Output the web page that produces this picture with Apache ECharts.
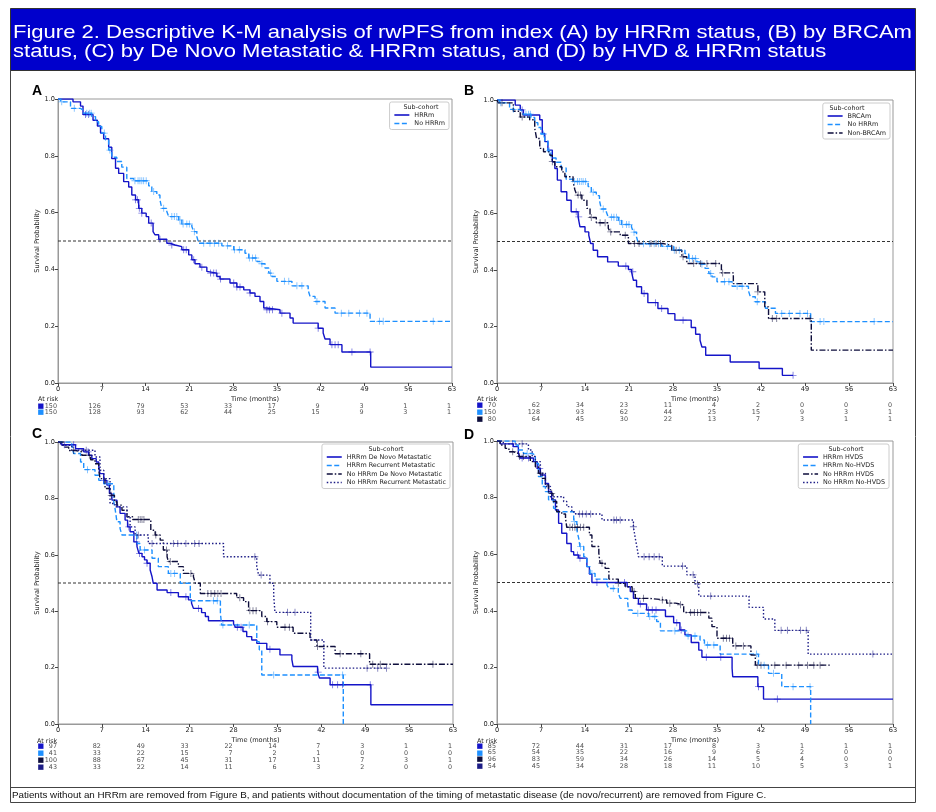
<!DOCTYPE html>
<html><head><meta charset="utf-8">
<script src="https://cdn.jsdelivr.net/npm/echarts@6/dist/echarts.min.js"></script>
<style>html,body{margin:0;padding:0;background:#fff}#c{width:936px;height:812px}</style>
</head><body><div id="c"></div>
<script>
// ---------- DATA ----------
const riskTimes = [0,7,14,21,28,35,42,49,56,63];

// Panel A
const aHRRm = [[0,1],[2.4,0.99],[3.6,0.975],[4.0,0.945],[5.6,0.925],[6.3,0.905],[6.8,0.88],[7.3,0.86],[8.1,0.83],[8.6,0.79],[9.2,0.756],[9.7,0.738],[10.5,0.709],[11.3,0.69],[11.8,0.662],[12.4,0.645],[12.9,0.615],[13.4,0.598],[14.1,0.586],[14.5,0.563],[15.2,0.533],[15.5,0.522],[16.1,0.506],[17.4,0.492],[17.9,0.486],[18.7,0.48],[19.8,0.469],[20.9,0.451],[21.4,0.434],[21.9,0.42],[22.7,0.408],[23.8,0.393],[24.1,0.387],[25.4,0.375],[25.9,0.366],[27.5,0.352],[28.6,0.338],[29.7,0.328],[30.7,0.317],[31.5,0.305],[32.3,0.287],[32.9,0.264],[33.3,0.258],[35.5,0.246],[37.1,0.229],[37.6,0.211],[41.6,0.193],[42.4,0.176],[42.7,0.155],[43.5,0.135],[45.4,0.109],[50.0,0.056],[63,0.056]];
const aHRRmCens = [4.4,4.9,12.4,12.7,13.0,13.4,14.9,16.3,18.2,20.1,20.5,21.7,23.0,24.4,24.9,25.3,26.0,28.1,28.6,29.1,30.7,33.4,33.8,34.3,35.8,41.6,43.8,44.3,44.8,47.0,49.9];
const aNoHRRm = [[0,1],[0.4,0.99],[2.0,0.967],[3.6,0.96],[4.1,0.95],[5.4,0.938],[6.0,0.92],[6.5,0.903],[7.0,0.88],[7.6,0.856],[8.1,0.82],[8.6,0.795],[9.4,0.78],[10.2,0.76],[11.0,0.72],[12.1,0.712],[14.5,0.694],[15.0,0.674],[15.8,0.662],[16.3,0.645],[16.6,0.615],[17.4,0.604],[17.7,0.586],[19.3,0.574],[19.8,0.56],[21.4,0.551],[21.7,0.533],[22.2,0.516],[22.5,0.492],[26.2,0.483],[28.1,0.469],[29.9,0.457],[30.5,0.44],[31.8,0.428],[32.3,0.42],[33.1,0.405],[33.7,0.387],[34.2,0.375],[35.0,0.358],[37.4,0.342],[40.0,0.326],[40.3,0.305],[41.1,0.287],[42.7,0.264],[44.3,0.246],[49.9,0.217],[63,0.217]];
const aNoHRRmCens = [0.6,2.6,4.6,5.0,5.3,7.4,8.3,12.3,12.8,13.1,13.4,13.7,14.1,15.3,16.9,18.2,18.6,19.0,19.5,20.0,20.6,21.0,21.8,23.3,24.3,25.0,25.7,27.1,28.2,29.0,30.6,31.1,31.6,32.6,34.0,36.2,36.9,38.2,39.0,41.4,45.3,46.5,48.2,49.4,51.4,52.0,60.0];
const riskA_HRRm = [150,126,79,53,33,17,9,3,1,1];
const riskA_NoHRRm = [150,128,93,62,44,25,15,9,3,1];

// Panel B
const bBRCAm = [[0,1],[2.9,0.982],[3.7,0.965],[4.2,0.947],[6.8,0.93],[7.2,0.882],[7.6,0.853],[8.1,0.823],[8.8,0.782],[9.2,0.758],[9.6,0.717],[10.2,0.676],[11.1,0.646],[11.8,0.605],[12.9,0.587],[13.2,0.552],[14.0,0.534],[14.6,0.522],[14.9,0.493],[15.3,0.469],[16.0,0.446],[17.6,0.428],[19.3,0.413],[20.9,0.401],[21.4,0.393],[21.7,0.363],[22.2,0.34],[23.0,0.316],[24.0,0.284],[25.6,0.263],[27.2,0.245],[28.3,0.222],[30.9,0.196],[31.6,0.172],[32.3,0.151],[32.6,0.127],[33.2,0.098],[37.1,0.074],[41.7,0.051],[45.4,0.027],[47.1,0.027]];
const bBRCAmCens = [4.0,12.6,13.0,20.5,21.6,23.4,25.2,26.2,29.6,47.1];
const bNonBRCAm = [[0,1],[0.2,0.99],[2.6,0.96],[3.7,0.94],[5.2,0.93],[6.0,0.9],[6.3,0.864],[6.8,0.829],[7.4,0.817],[8.4,0.805],[8.8,0.782],[9.2,0.764],[10.3,0.746],[10.8,0.729],[12.1,0.711],[12.4,0.682],[12.7,0.664],[13.5,0.646],[14.3,0.617],[14.8,0.585],[15.8,0.566],[17.7,0.547],[18.0,0.534],[19.6,0.522],[20.9,0.493],[26.4,0.486],[27.8,0.469],[29.4,0.446],[30.2,0.422],[35.7,0.389],[37.6,0.351],[41.5,0.322],[42.6,0.269],[43.2,0.228],[50.0,0.116],[63,0.116]];
const bNonBRCAmCens = [0.8,4.0,8.8,12.9,13.3,15.0,16.4,17.2,18.1,20.4,21.9,22.6,24.5,25.3,26.0,28.5,29.6,31.3,32.4,33.4,34.8,35.9,41.5,43.8,44.5,49.8];
const riskB_BRCAm = [70,62,34,23,11,4,2,0,0,0];
const riskB_NoHRRm = [150,128,93,62,44,25,15,9,3,1];
const riskB_NonBRCAm = [80,64,45,30,22,13,7,3,1,1];

// Panel C
const cHRRmDeNovo = [[0,1],[0.6,0.99],[2.8,0.976],[4.1,0.965],[4.9,0.953],[5.4,0.941],[6.1,0.929],[6.5,0.912],[6.7,0.888],[7.3,0.864],[7.8,0.847],[8.2,0.817],[8.6,0.794],[9.4,0.77],[9.9,0.747],[10.7,0.723],[11.1,0.699],[11.5,0.682],[12.1,0.646],[12.6,0.629],[12.9,0.605],[13.4,0.593],[13.8,0.582],[14.2,0.57],[14.7,0.546],[15.0,0.522],[15.2,0.499],[15.8,0.475],[17.4,0.466],[19.2,0.451],[20.8,0.44],[21.3,0.428],[21.6,0.41],[22.9,0.395],[23.5,0.381],[24.0,0.366],[28.0,0.355],[28.3,0.343],[29.5,0.328],[30.1,0.31],[30.9,0.298],[31.7,0.286],[33.3,0.265],[35.4,0.245],[37.3,0.228],[37.5,0.204],[41.4,0.184],[41.7,0.163],[43.4,0.139],[49.9,0.068],[63,0.068]];
const cHRRmDeNovoCens = [1.0,2.5,4.8,7.3,11.3,12.5,13.0,14.2,18.0,20.4,22.4,28.6,29.2,33.8,41.5,43.8,44.6,45.4,49.8];
const cHRRmRecur = [[0,1],[2.2,0.988],[2.5,0.959],[3.6,0.929],[4.1,0.902],[5.9,0.882],[6.5,0.864],[7.3,0.852],[8.9,0.788],[9.1,0.764],[9.4,0.717],[9.9,0.693],[10.2,0.67],[12.6,0.64],[13.1,0.617],[15.0,0.588],[16.0,0.558],[17.6,0.534],[19.5,0.499],[21.1,0.437],[25.9,0.393],[26.1,0.351],[31.7,0.292],[32.1,0.263],[32.5,0.174],[45.5,0]];
const cHRRmRecurCens = [4.7,8.0,12.5,13.8,18.0,18.6,24.8,25.4,26.3,30.5,34.4,45.4];
const cNoDeNovo = [[0,1],[0.9,0.982],[1.7,0.97],[2.8,0.965],[3.8,0.953],[5.2,0.937],[5.9,0.923],[6.5,0.9],[6.7,0.87],[7.5,0.835],[8.3,0.811],[9.0,0.788],[9.4,0.776],[10.2,0.758],[11.0,0.735],[11.9,0.725],[14.8,0.687],[15.5,0.67],[16.3,0.652],[16.8,0.617],[17.4,0.593],[17.6,0.576],[19.2,0.558],[20.0,0.534],[21.6,0.522],[21.9,0.499],[22.7,0.463],[28.5,0.448],[29.6,0.434],[30.4,0.402],[32.5,0.381],[33.3,0.363],[34.9,0.343],[37.5,0.322],[40.2,0.298],[41.3,0.275],[44.2,0.249],[49.7,0.212],[63,0.212]];
const cNoDeNovoCens = [2.5,5.0,8.5,12.8,13.1,13.4,13.7,15.6,17.3,17.9,21.2,23.9,24.4,25.0,25.5,26.0,29.0,30.6,31.1,31.6,33.4,36.2,36.9,41.4,45.0,48.3,50.2,51.4,59.8];
const cNoRecur = [[0,1],[0.4,0.988],[2.2,0.971],[5.9,0.947],[6.7,0.9],[7.3,0.87],[8.3,0.782],[9.1,0.77],[11.0,0.735],[11.5,0.699],[12.3,0.67],[14.4,0.64],[26.4,0.593],[31.7,0.558],[32.0,0.528],[33.8,0.499],[34.4,0.458],[34.6,0.396],[40.3,0.298],[42.4,0.198],[52.4,0.198]];
const cNoRecurCens = [4.5,12.8,15.0,18.4,19.1,20.4,21.8,22.5,31.4,32.4,36.6,37.8,49.3,51.0,52.4];
const riskC_HRRmDeNovo = [97,82,49,33,22,14,7,3,1,1];
const riskC_HRRmRecur = [41,33,22,15,7,2,1,0,0,0];
const riskC_NoDeNovo = [100,88,67,45,31,17,11,7,3,1];
const riskC_NoRecur = [43,33,22,14,11,6,3,2,0,0];

// Panel D
const dHRRmHVDS = [[0,1],[0.5,0.99],[2.6,0.98],[3.4,0.956],[3.7,0.94],[5.8,0.927],[6.4,0.903],[6.9,0.88],[7.7,0.85],[8.2,0.821],[8.7,0.792],[9.3,0.756],[9.8,0.709],[10.3,0.674],[11.1,0.638],[11.8,0.609],[12.2,0.597],[13.0,0.586],[14.3,0.556],[14.7,0.53],[15.1,0.5],[20.7,0.485],[21.2,0.468],[21.7,0.444],[22.5,0.424],[23.8,0.403],[26.8,0.38],[28.1,0.358],[29.1,0.332],[29.9,0.315],[30.9,0.288],[32.1,0.261],[32.6,0.236],[37.4,0.197],[37.5,0.167],[41.5,0.132],[42.4,0.088],[63,0.088]];
const dHRRmHVDSCens = [2.5,4.0,5.0,6.8,12.8,13.2,15.9,20.3,22.8,24.1,24.7,25.3,28.6,29.3,33.3,35.6,41.6,44.6];
const dHRRmNoHVDS = [[0,1],[2.9,0.986],[3.4,0.968],[4.2,0.956],[5.6,0.95],[6.1,0.921],[6.6,0.874],[7.2,0.839],[7.7,0.821],[8.2,0.792],[9.0,0.762],[9.5,0.75],[12.2,0.715],[12.7,0.686],[13.0,0.656],[13.2,0.627],[13.8,0.591],[14.3,0.556],[14.8,0.532],[15.6,0.512],[17.5,0.491],[17.8,0.479],[19.3,0.462],[19.6,0.444],[20.8,0.429],[20.9,0.403],[21.5,0.391],[24.1,0.38],[25.4,0.362],[26.0,0.329],[30.2,0.311],[32.3,0.297],[33.0,0.279],[35.5,0.247],[41.6,0.208],[43.2,0.179],[45.3,0.132],[49.9,0]];
const dHRRmNoHVDSCens = [4.8,12.3,13.3,15.1,18.5,22.4,24.3,25.1,28.3,30.4,31.5,33.5,34.5,41.3,42.5,44.0,47.1,49.8];
const dNoHVDS = [[0,1],[0.5,0.986],[1.3,0.974],[1.9,0.962],[2.6,0.956],[3.4,0.945],[5.3,0.927],[6.1,0.909],[6.6,0.886],[7.2,0.868],[7.7,0.845],[8.2,0.815],[8.9,0.786],[9.5,0.75],[10.3,0.742],[10.9,0.727],[11.1,0.695],[14.7,0.668],[15.1,0.627],[16.2,0.603],[16.4,0.568],[17.2,0.55],[17.8,0.512],[19.3,0.497],[20.4,0.485],[21.5,0.468],[22.0,0.444],[24.1,0.438],[27.0,0.427],[28.4,0.421],[29.7,0.394],[33.7,0.374],[34.2,0.344],[35.0,0.303],[37.5,0.276],[40.4,0.244],[41.1,0.208],[53.0,0.208]];
const dNoHVDSCens = [2.5,3.6,4.2,6.9,8.7,11.6,12.0,12.4,12.8,13.3,13.8,16.7,19.3,21.8,23.3,26.3,27.5,29.2,30.8,31.4,31.9,32.4,36.0,36.5,37.0,38.0,39.2,41.4,42.0,44.2,46.0,48.0,49.4,50.4,51.4];
const dNoNoHVDS = [[0,1],[1.0,0.99],[5.0,0.968],[5.6,0.945],[6.1,0.927],[6.9,0.886],[7.7,0.839],[8.5,0.803],[10.6,0.786],[11.1,0.768],[11.9,0.75],[12.5,0.742],[16.7,0.721],[21.7,0.697],[22.0,0.656],[22.3,0.621],[22.5,0.591],[26.3,0.558],[30.2,0.527],[31.5,0.495],[32.1,0.452],[40.1,0.412],[42.4,0.371],[44.2,0.331],[49.5,0.247],[63,0.247]];
const dNoNoHVDSCens = [4.0,13.1,13.6,14.2,14.9,18.6,19.0,19.6,21.7,23.4,24.2,25.0,25.8,29.5,31.2,31.9,34.0,45.2,46.2,48.3,49.2,59.8];
const riskD_HRRmHVDS = [85,72,44,31,17,8,3,1,1,1];
const riskD_HRRmNoHVDS = [65,54,35,22,16,9,6,2,0,0];
const riskD_NoHVDS = [96,83,59,34,26,14,5,4,0,0];
const riskD_NoNoHVDS = [54,45,34,28,18,11,10,5,3,1];

const medianLevel = 0.5;
const titleLines = ['Figure 2. Descriptive K-M analysis of rwPFS from index (A) by HRRm status, (B) by BRCAm',
                    'status, (C) by De Novo Metastatic & HRRm status, and (D) by HVD & HRRm status'];
const footText = 'Patients without an HRRm are removed from Figure B, and patients without documentation of the timing of metastatic disease (de novo/recurrent) are removed from Figure C.';

// ---------- STYLE ----------
const BLUE='#1414c8', LIGHT='#1e90ff', DARK='#0e0e3c', NAVY='#1c1c86';
const DASH = {solid:'solid', dashed:[5,2.5], dashdot:[6,2,1.5,2], dotted:[1.5,2]};
const FONT = 'DejaVu Sans';
const PLUS = 'path://M0,4.4L10,4.4L10,5.6L0,5.6Z M4.4,0L5.6,0L5.6,10L4.4,10Z';
const TICK_FS = 6.6, SMALL_FS = 6.4;

const panels = [
  {letter:'A', letterXY:[32,84], grid:{left:58,top:99,width:394,height:284}, table:{top:402.7,height:13}, atRisk:[38,399],
   legend:{right:487,top:102}, legendCenter:[421,107.5],
   curves:[{name:'HRRm',data:aHRRm,cens:aHRRmCens,color:BLUE,dash:'solid'},
           {name:'No HRRm',data:aNoHRRm,cens:aNoHRRmCens,color:LIGHT,dash:'dashed'}],
   risk:[riskA_HRRm,riskA_NoHRRm], riskColors:[BLUE,LIGHT]},
  {letter:'B', letterXY:[464,84], grid:{left:497,top:100,width:396,height:283}, table:{top:401.4,height:21.6}, atRisk:[477,399],
   legend:{right:46,top:103}, legendCenter:[847,108.5],
   curves:[{name:'BRCAm',data:bBRCAm,cens:bBRCAmCens,color:BLUE,dash:'solid'},
           {name:'No HRRm',data:aNoHRRm,cens:aNoHRRmCens,color:LIGHT,dash:'dashed'},
           {name:'Non-BRCAm',data:bNonBRCAm,cens:bNonBRCAmCens,color:DARK,dash:'dashdot'}],
   risk:[riskB_BRCAm,riskB_NoHRRm,riskB_NonBRCAm], riskColors:[BLUE,LIGHT,DARK]},
  {letter:'C', letterXY:[32,427], grid:{left:58,top:442,width:395,height:282}, table:{top:742.5,height:28}, atRisk:[37,741],
   legend:{right:486,top:444}, legendCenter:[386,449.5],
   curves:[{name:'HRRm De Novo Metastatic',data:cHRRmDeNovo,cens:cHRRmDeNovoCens,color:BLUE,dash:'solid'},
           {name:'HRRm Recurrent Metastatic',data:cHRRmRecur,cens:cHRRmRecurCens,color:LIGHT,dash:'dashed'},
           {name:'No HRRm De Novo Metastatic',data:cNoDeNovo,cens:cNoDeNovoCens,color:DARK,dash:'dashdot'},
           {name:'No HRRm Recurrent Metastatic',data:cNoRecur,cens:cNoRecurCens,color:NAVY,dash:'dotted'}],
   risk:[riskC_HRRmDeNovo,riskC_HRRmRecur,riskC_NoDeNovo,riskC_NoRecur], riskColors:[BLUE,LIGHT,DARK,NAVY]},
  {letter:'D', letterXY:[464,428], grid:{left:497,top:441,width:396,height:283}, table:{top:742.7,height:27}, atRisk:[477,741],
   legend:{right:47,top:444}, legendCenter:[846,449.5],
   curves:[{name:'HRRm HVDS',data:dHRRmHVDS,cens:dHRRmHVDSCens,color:BLUE,dash:'solid'},
           {name:'HRRm No-HVDS',data:dHRRmNoHVDS,cens:dHRRmNoHVDSCens,color:LIGHT,dash:'dashed'},
           {name:'No HRRm HVDS',data:dNoHVDS,cens:dNoHVDSCens,color:DARK,dash:'dashdot'},
           {name:'No HRRm No-HVDS',data:dNoNoHVDS,cens:dNoNoHVDSCens,color:NAVY,dash:'dotted'}],
   risk:[riskD_HRRmHVDS,riskD_HRRmNoHVDS,riskD_NoHVDS,riskD_NoNoHVDS], riskColors:[BLUE,LIGHT,DARK,NAVY]}
];

function survAt(curve, t){ let s = curve[0][1]; for (const p of curve){ if (p[0] <= t) s = p[1]; else break; } return s; }

const grids=[], xAxes=[], yAxes=[], series=[], legends=[], graphics=[];
panels.forEach((P, i) => {
  grids[i] = Object.assign({show:true, borderColor:'#999', borderWidth:1, backgroundColor:'#fff'}, P.grid);
  grids[4+i] = {left:P.grid.left, width:P.grid.width, top:P.table.top, height:P.table.height};
  xAxes[i] = {gridIndex:i, type:'value', min:0, max:63, interval:7, name:'Time (months)', nameLocation:'middle', nameGap:13,
    nameTextStyle:{fontSize:TICK_FS, color:'#222', fontFamily:FONT},
    axisLine:{show:true, lineStyle:{color:'#999'}}, axisTick:{show:true, length:3, lineStyle:{color:'#444'}},
    axisLabel:{fontSize:TICK_FS, color:'#222', margin:3, fontFamily:FONT}, splitLine:{show:false}};
  yAxes[i] = {gridIndex:i, type:'value', min:0, max:1, interval:0.2, name:'Survival Probability', nameLocation:'middle', nameGap:17, nameRotate:90,
    nameTextStyle:{fontSize:TICK_FS, color:'#222', fontFamily:FONT},
    axisLine:{show:true, lineStyle:{color:'#999'}}, axisTick:{show:true, length:3, lineStyle:{color:'#444'}},
    axisLabel:{fontSize:TICK_FS, color:'#222', margin:3, fontFamily:FONT, formatter:v=>v.toFixed(1)}, splitLine:{show:false}};
  const rich = {};
  P.riskColors.forEach((c,k)=>{ rich['s'+k] = {color:c, fontSize:7, fontFamily:FONT}; });
  xAxes[4+i] = {gridIndex:4+i, type:'value', min:0, max:63, show:false};
  yAxes[4+i] = {gridIndex:4+i, type:'category', inverse:true, data:P.risk.map((r,k)=>'r'+k),
    axisLine:{show:false}, axisTick:{show:false}, splitLine:{show:false},
    axisLabel:{interval:0, margin:14, formatter:(v,idx)=>'{s'+idx+'|\u25A0}', rich:rich}};

  series.push({type:'line', xAxisIndex:i, yAxisIndex:i, data:[[0,medianLevel],[63,medianLevel]], symbol:'none', silent:true,
    lineStyle:{color:'#333', width:1, type:[3,2]}, z:1});
  P.curves.forEach(c => {
    series.push({type:'line', name:c.name, xAxisIndex:i, yAxisIndex:i, data:c.data, step:'end', symbol:'none', showSymbol:false,
      lineStyle:{color:c.color, width:1.4, type:DASH[c.dash]}, itemStyle:{color:c.color}, color:c.color, z:3, silent:true});
    series.push({type:'scatter', name:c.name+' (censored)', xAxisIndex:i, yAxisIndex:i, symbol:PLUS, symbolSize:7,
      itemStyle:{color:c.color, opacity:0.6}, data:c.cens.map(t=>[t, survAt(c.data,t)]), z:4, silent:true});
  });
  P.risk.forEach((row,k) => {
    series.push({type:'scatter', xAxisIndex:4+i, yAxisIndex:4+i, symbolSize:1, itemStyle:{color:'rgba(0,0,0,0)'}, silent:true,
      label:{show:true, position:'left', distance:0.5, fontSize:SMALL_FS, color:'#222', fontFamily:FONT, formatter:p=>p.value[2]},
      data: riskTimes.map((t,j)=>[t,k,row[j]])});
  });
  legends.push({data:P.curves.map(c=>c.name), orient:'vertical', right:P.legend.right, top:P.legend.top,
    padding:[10,4,3,4], itemGap:2.5, itemWidth:15, itemHeight:7, selectedMode:false,
    itemStyle:{color:'rgba(0,0,0,0)', borderWidth:0, borderColor:'rgba(0,0,0,0)'},
    lineStyle:{width:1.6},
    textStyle:{fontSize:SMALL_FS, color:'#222', fontFamily:FONT}, borderColor:'#ccc', borderWidth:1, borderRadius:2, backgroundColor:'#fff'});
  graphics.push({type:'text', z:100, x:P.legendCenter[0], y:P.legendCenter[1], style:{text:'Sub-cohort', fill:'#222', font:SMALL_FS+'px "DejaVu Sans"', textAlign:'center', textVerticalAlign:'middle'}});
  graphics.push({type:'text', z:100, x:P.letterXY[0], y:P.letterXY[1], style:{text:P.letter, fill:'#000', font:'bold 14px "Liberation Sans"'}});
  graphics.push({type:'text', z:100, x:P.atRisk[0], y:P.atRisk[1], style:{text:'At risk', fill:'#222', font:SMALL_FS+'px "DejaVu Sans"', textVerticalAlign:'middle'}});
});

// frame, banner, footer
graphics.unshift(
  {type:'rect', z:0, shape:{x:10.5,y:70.5,width:905,height:732}, style:{fill:'none', stroke:'#444', lineWidth:1}},
  {type:'rect', z:0, shape:{x:10.5,y:8.5,width:905,height:62}, style:{fill:'#0000cc', stroke:'#333', lineWidth:1}},
  {type:'line', z:0, shape:{x1:10.5,y1:787.5,x2:915.5,y2:787.5}, style:{stroke:'#444', lineWidth:1}},
  {type:'text', z:100, x:13, y:33, scaleX:1.16, style:{text:titleLines[0], fill:'#fff', font:'19px "Liberation Sans"', textVerticalAlign:'middle'}},
  {type:'text', z:100, x:13, y:51.5, scaleX:1.16, style:{text:titleLines[1], fill:'#fff', font:'19px "Liberation Sans"', textVerticalAlign:'middle'}},
  {type:'text', z:100, x:12, y:795, style:{text:footText, fill:'#111', font:'9.8px "Liberation Sans"', textVerticalAlign:'middle'}}
);

const chart = echarts.init(document.getElementById('c'), null, {renderer:'canvas'});
chart.setOption({animation:false, backgroundColor:'#fff', grid:grids, xAxis:xAxes, yAxis:yAxes, series:series, legend:legends, graphic:{elements:graphics}});
</script></body></html>
